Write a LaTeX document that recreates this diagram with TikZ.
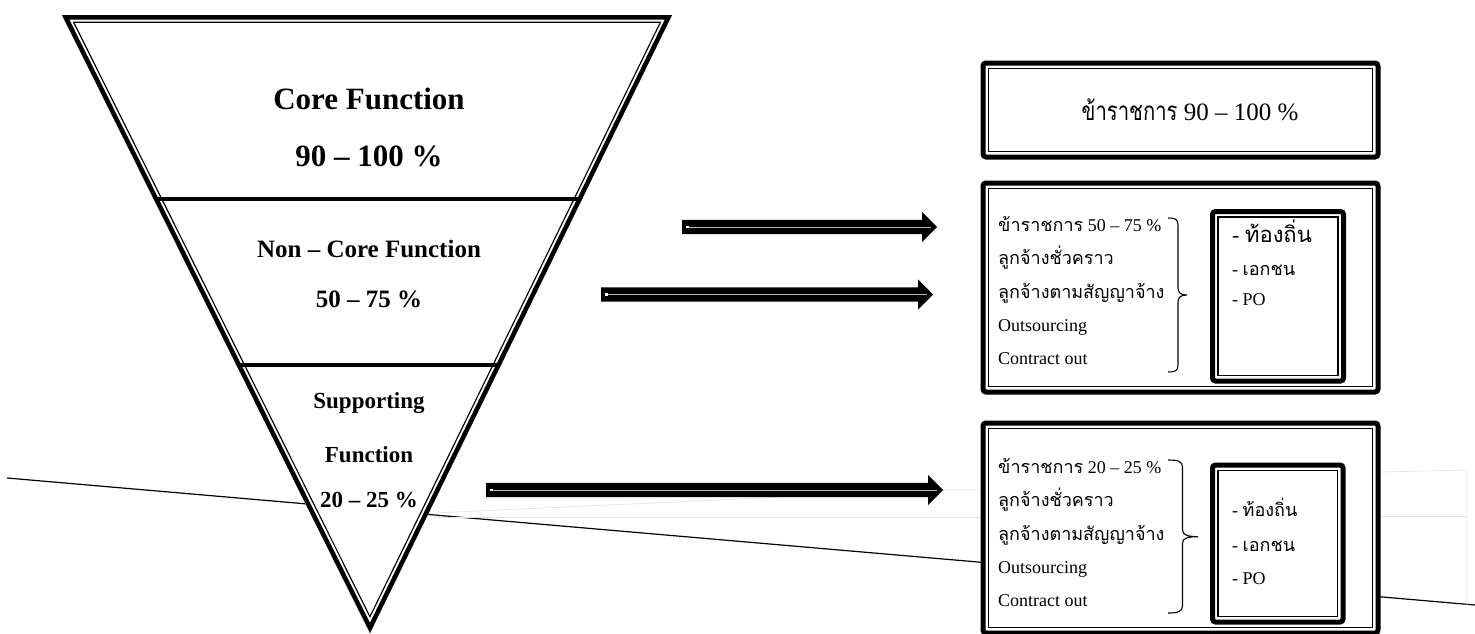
\documentclass[tikz,border=0pt]{standalone}
\usepackage{fontspec}
\setmainfont{Liberation Serif}
\newfontfamily\thaif[Script=Thai]{Loma}
\newfontfamily\thaibig[Script=Thai,FakeStretch=0.78]{Loma}
\usetikzlibrary{calc}
\begin{document}
\begin{tikzpicture}[x=1pt,y=-1pt,
  pics/barrow/.style={code={
    \fill[black] (-#1,-7.2) -- (-15,-7.2) -- (-15,-15) -- (0,0) -- (-15,15) -- (-15,7.2) -- (-#1,7.2) -- cycle;
    \draw[gray!55, line width=0.8pt] (-#1+5,0) -- (-6,0);
    \fill[white] (-#1+4,-1.3) rectangle ++(2.6,2.6);
  }},
  outerbox/.style={draw=black, line width=5pt, rounded corners=3pt, fill=white},
  innerline/.style={draw=black, line width=1.3pt},
  brace/.style={draw=black, line width=1.1pt},
  faint/.style={draw=gray!22, line width=0.7pt},
  tri1/.style={font=\fontsize{31}{31}\selectfont\bfseries, anchor=base},
  tri2/.style={font=\fontsize{25}{25}\selectfont\bfseries, anchor=base},
  tri3/.style={font=\fontsize{23}{23}\selectfont\bfseries, anchor=base},
  boxtxt/.style={font=\fontsize{18}{18}\selectfont, anchor=base west, inner sep=0pt},
  bigtxt/.style={font=\fontsize{25}{25}\selectfont, anchor=base, inner sep=0pt},
  loctxt/.style={font=\fontsize{18}{18}\selectfont, anchor=base west, inner sep=0pt},
  locbig/.style={font=\fontsize{22}{22}\selectfont, anchor=base west, inner sep=0pt}
]
\useasboundingbox (0,0) rectangle (1475,633);

% background lines
\draw[line width=1.2pt] (7,478) -- (1475,605);
\draw[faint] (434,513) -- (936,490) -- (982,490);
\draw[faint] (434,517) -- (982,517);
\draw[faint] (1380,472) -- (1467,470) -- (1467,605);
\draw[faint] (1380,516) -- (1467,516);

% triangle
\coordinate (tA) at (62,15);
\coordinate (tB) at (672,15);
\coordinate (tC) at (370,633);
\fill[white] (tA) -- (tB) -- (tC) -- cycle;
\begin{scope}
  \clip (tA) -- (tB) -- (tC) -- cycle;
  \draw[line width=15.6pt, line join=miter] (tA) -- (tB) -- (tC) -- cycle;
  \draw[white, line width=13pt, line join=miter] (tA) -- (tB) -- (tC) -- cycle;
  \draw[line width=9pt, line join=miter] (tA) -- (tB) -- (tC) -- cycle;
  \draw[line width=4.5pt] (60,199) -- (680,199);
  \draw[line width=4.5pt] (60,365) -- (680,365);
\end{scope}

% triangle texts
\node[tri1] (core) at (369,109) {Core Function};
\node[tri1] (corep) at (369,166) {90 – 100 \%};
\node[tri2] (noncore) at (369,257) {Non – Core Function};
\node[tri2] (noncorep) at (369,307) {50 – 75 \%};
\node[tri3] (sup1) at (369,408) {Supporting};
\node[tri3] (sup2) at (369,462) {Function};
\node[tri3] (supp) at (369,507) {20 – 25 \%};

% arrows
\pic at (937,227) {barrow=255};
\pic at (933,294.5) {barrow=332};
\pic at (943,490) {barrow=457};

% box 1
\draw[outerbox] (983,63) rectangle (1378,157);
\draw[innerline] (988.5,68.5) rectangle (1372.5,151.5);
\node[bigtxt] (b1) at (1190,120) {{\thaibig\fontsize{26}{26}\selectfont ข้าราชการ} 90 – 100 \%};

% box 2
\draw[outerbox] (983,183) rectangle (1378,392);
\draw[innerline] (988.5,188.5) rectangle (1372.5,386.5);
\draw[outerbox] (1212.5,211.5) rectangle (1343.5,381);
\draw[innerline] (1218,217) rectangle (1338,375.5);
\node[boxtxt] (b2l1) at (998,231.5) {{\thaif ข้าราชการ} 50 – 75 \%};
\node[boxtxt] (b2l2) at (998,264.75) {\thaif ลูกจ้างชั่วคราว};
\node[boxtxt] (b2l3) at (998,298) {\thaif ลูกจ้างตามสัญญาจ้าง};
\node[boxtxt] (b2l4) at (998,331.25) {Outsourcing};
\node[boxtxt] (b2l5) at (998,364.5) {Contract out};
\draw[brace] (1168,218) .. controls (1175,218) and (1178,219) .. (1178,225)
  -- (1178,288) .. controls (1178,293) and (1181,295) .. (1187,295)
  .. controls (1181,295) and (1178,297) .. (1178,302)
  -- (1178,365) .. controls (1178,371) and (1175,372) .. (1168,372);
\node[locbig] (b2r1) at (1232,242) {- {\thaif ท้องถิ่น}};
\node[loctxt] (b2r2) at (1232,275) {- {\thaif เอกชน}};
\node[loctxt] (b2r3) at (1232,305) {- PO};

% box 3
\draw[outerbox] (983,423) rectangle (1378,633);
\draw[innerline] (988.5,428.5) rectangle (1372.5,627.5);
\draw[outerbox] (1212.5,465) rectangle (1343,622);
\draw[innerline] (1218,470.5) rectangle (1337.5,616.5);
\node[boxtxt] (b3l1) at (998,473.5) {{\thaif ข้าราชการ} 20 – 25 \%};
\node[boxtxt] (b3l2) at (998,506.75) {\thaif ลูกจ้างชั่วคราว};
\node[boxtxt] (b3l3) at (998,540) {\thaif ลูกจ้างตามสัญญาจ้าง};
\node[boxtxt] (b3l4) at (998,573.25) {Outsourcing};
\node[boxtxt] (b3l5) at (998,606.5) {Contract out};
\draw[brace] (1168,460) .. controls (1177,460) and (1182.5,461) .. (1182.5,467)
  -- (1182.5,530) .. controls (1182.5,535) and (1188,536.7) .. (1198,536.7)
  .. controls (1188,536.7) and (1182.5,538) .. (1182.5,543)
  -- (1182.5,606) .. controls (1182.5,612) and (1177,613) .. (1168,613);
\node[loctxt] (b3r1) at (1232,516) {- {\thaif ท้องถิ่น}};
\node[loctxt] (b3r2) at (1232,551) {- {\thaif เอกชน}};
\node[loctxt] (b3r3) at (1232,584) {- PO};
\end{tikzpicture}
\end{document}
